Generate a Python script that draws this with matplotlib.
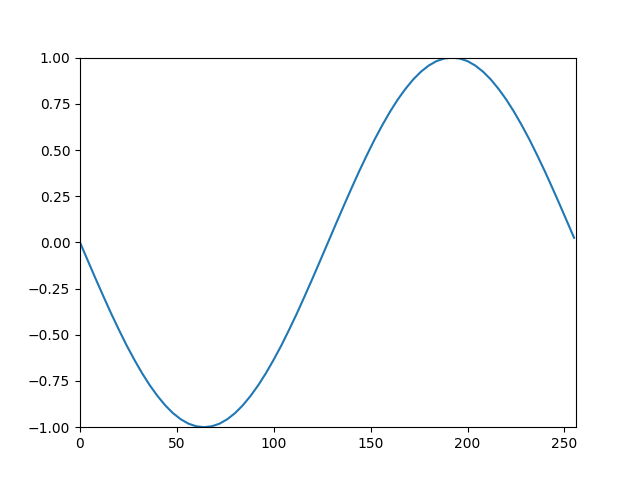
import matplotlib
matplotlib.use("Agg")
import matplotlib.pyplot as plt

# sample index and signal value
sample_idx = [0, 4, 8, 12, 16, 20, 24, 28, 32, 36, 40, 44, 48, 52, 56, 60,
              64, 68, 72, 76, 80, 84, 88, 92, 96, 100, 104, 108, 112, 116, 120, 124,
              128, 132, 136, 140, 144, 148, 152, 156, 160, 164, 168, 172, 176, 180,
              184, 188, 192, 196, 200, 204, 208, 212, 216, 220, 224, 228, 232, 236,
              240, 244, 248, 252, 255]
signal = [0.0, -0.098, -0.195, -0.290, -0.383, -0.471, -0.556, -0.634,
          -0.707, -0.773, -0.831, -0.882, -0.924, -0.957, -0.981, -0.995,
          -1.0, -0.995, -0.981, -0.957, -0.924, -0.882, -0.831, -0.773,
          -0.707, -0.634, -0.556, -0.471, -0.383, -0.290, -0.195, -0.098,
          0.0, 0.098, 0.195, 0.290, 0.383, 0.471, 0.556, 0.634,
          0.707, 0.773, 0.831, 0.882, 0.924, 0.957, 0.981, 0.995,
          1.0, 0.995, 0.981, 0.957, 0.924, 0.882, 0.831, 0.773,
          0.707, 0.634, 0.556, 0.471, 0.383, 0.290, 0.195, 0.098, 0.025]

fig, ax = plt.subplots(figsize=(6.4, 4.8), dpi=100)
ax.plot(sample_idx, signal, color="#1f77b4")
ax.set_xlim(0, 256)
ax.set_ylim(-1, 1)

fig.savefig("out.png", dpi=100)
plt.close(fig)
